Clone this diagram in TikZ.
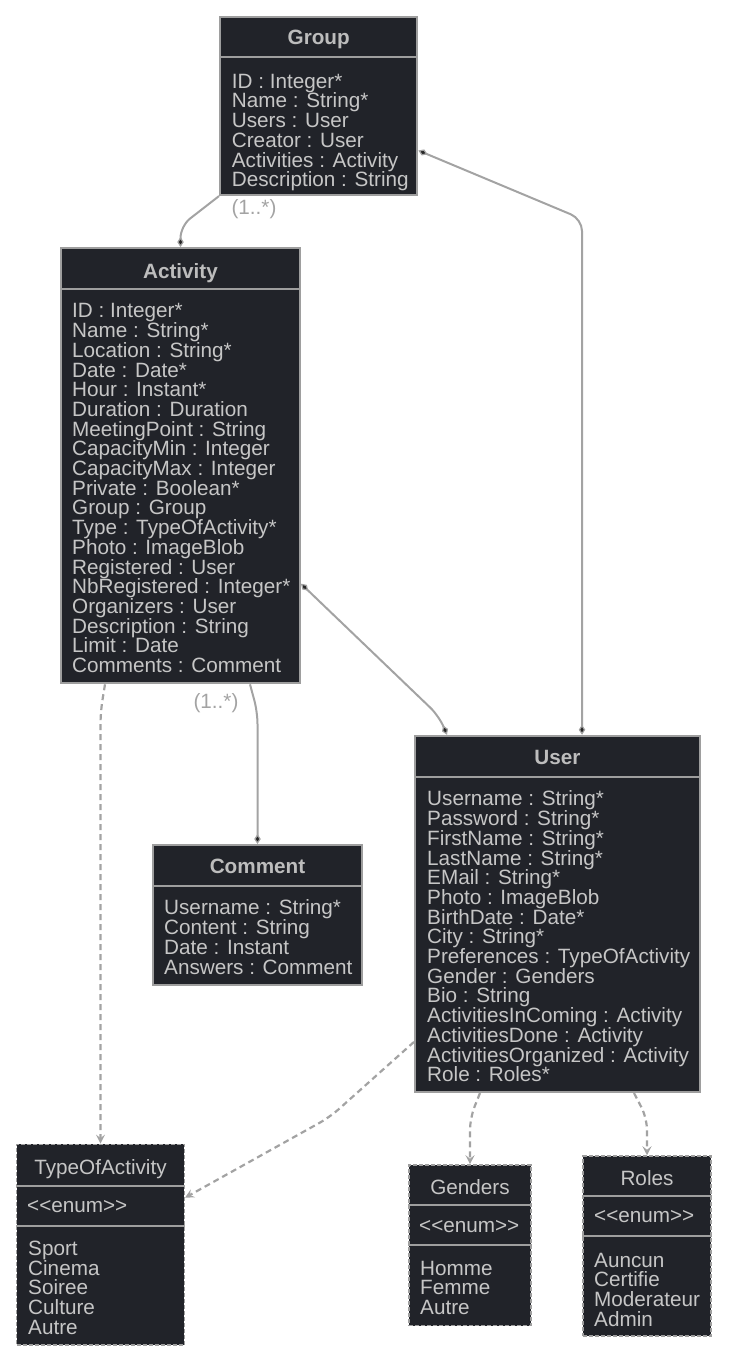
\documentclass[tikz,border=0pt]{standalone}
\usepackage{fontspec}
\setmainfont[Ligatures=NoCommon]{Liberation Sans}
\usetikzlibrary{arrows.meta,calc}
\definecolor{bgc}{HTML}{212329}
\definecolor{bordc}{HTML}{9E9E9E}
\definecolor{txtc}{HTML}{C6C6C6}
\definecolor{ttlc}{HTML}{BDBDBD}
\definecolor{linec}{HTML}{A3A3A3}
\newcommand\umlfont{\fontsize{20.7}{19.7}\selectfont\lineskiplimit=-50pt\relax}
\newcommand\fl{\rule{0pt}{16pt}}
\newcommand\enumtxt{<\kern0pt<enum>\kern0pt>}
\tikzset{
  classbox/.style={draw=bordc, fill=bgc, line width=2pt, inner sep=0pt},
  enumbox/.style={draw=bordc, fill=bgc, line width=1.5pt, dash pattern=on 4pt off 2pt, inner sep=0pt},
  sepline/.style={draw=bordc, line width=2pt},
  esepline/.style={draw=bordc, line width=2pt},
  attr/.style={anchor=north west, inner sep=0pt, align=left, font=\umlfont, text=txtc},
  ttl/.style={anchor=base, inner sep=0pt, font=\umlfont\bfseries, text=ttlc},
  ettl/.style={anchor=base, inner sep=0pt, font=\umlfont, text=txtc},
  ebase/.style={anchor=base west, inner sep=0pt, font=\umlfont, text=txtc},
  lbl/.style={inner sep=0pt, font=\umlfont, text=linec},
  assoc/.style={draw=linec, line width=2pt, rounded corners=12pt},
  dep/.style={draw=linec, line width=2.2pt, dash pattern=on 6pt off 4pt, rounded corners=12pt, -{Stealth[length=9pt,width=9pt,inset=3.5pt]}},
  dia/.tip={Diamond[length=10pt,width=6.5pt,fill=black!85,line width=1.2pt]}
}
\begin{document}
\begin{tikzpicture}[x=1pt,y=-1pt]
\useasboundingbox (0,0) rectangle (728,1362);
% ---------- Group
\node[classbox, minimum width=197.3pt, minimum height=178.3pt] (group) at (318.7,105.9) {};
\draw[sepline] (group.west |- 0,57.3) -- (group.east |- 0,57.3);
\node[ttl] (groupt) at (318.7,45) {Group};
\node[attr] (groupa) at (231.7,72) {\fl ID : Integer*\\Name : String*\\Users : User\\Creator : User\\Activities : Activity\\Description : String};
% ---------- Activity
\node[classbox, minimum width=239pt, minimum height=435.3pt] (activity) at (180.5,465.7) {};
\draw[sepline] (activity.west |- 0,289) -- (activity.east |- 0,289);
\node[ttl] (activityt) at (180.5,278) {Activity};
\node[attr] (activitya) at (72,301.7) {\fl ID : Integer*\\Name : String*\\Location : String*\\Date : Date*\\Hour : Instant*\\Duration : Duration\\MeetingPoint : String\\CapacityMin : Integer\\CapacityMax : Integer\\Private : Boolean*\\Group : Group\\Type : TypeOfActivity*\\Photo : ImageBlob\\Registered : User\\NbRegistered : Integer*\\Organizers : User\\Description : String\\Limit : Date\\Comments : Comment};
% ---------- User
\node[classbox, minimum width=285pt, minimum height=356.3pt] (user) at (557.5,913.9) {};
\draw[sepline] (user.west |- 0,777) -- (user.east |- 0,777);
\node[ttl] (usert) at (557.5,764) {User};
\node[attr] (usera) at (427,789.7) {\fl Username : String*\\Password : String*\\FirstName : String*\\LastName : String*\\EMail : String*\\Photo : ImageBlob\\BirthDate : Date*\\City : String*\\Preferences : TypeOfActivity\\Gender : Genders\\Bio : String\\ActivitiesInComing : Activity\\ActivitiesDone : Activity\\ActivitiesOrganized : Activity\\Role : Roles*};
% ---------- Comment
\node[classbox, minimum width=209pt, minimum height=140pt] (comment) at (257.5,915) {};
\draw[sepline] (comment.west |- 0,886) -- (comment.east |- 0,886);
\node[ttl] (commentt) at (257.5,873) {Comment};
\node[attr] (commenta) at (164,898.7) {\fl Username : String*\\Content : String\\Date : Instant\\Answers : Comment};
% ---------- TypeOfActivity
\node[enumbox, minimum width=167.6pt, minimum height=200.7pt] (toa) at (100.5,1244.7) {};
\draw[esepline] (toa.west |- 0,1185.7) -- (toa.east |- 0,1185.7);
\draw[esepline] (toa.west |- 0,1226.3) -- (toa.east |- 0,1226.3);
\node[ettl] (toat) at (100.5,1174.6) {TypeOfActivity};
\node[ebase] (toae) at (27,1212.5) {\enumtxt};
\node[attr] (toai) at (28,1239.3) {\fl Sport\\Cinema\\Soiree\\Culture\\Autre};
% ---------- Genders
\node[enumbox, minimum width=121.7pt, minimum height=160.7pt] (genders) at (470,1245.3) {};
\draw[esepline] (genders.west |- 0,1205) -- (genders.east |- 0,1205);
\draw[esepline] (genders.west |- 0,1245) -- (genders.east |- 0,1245);
\node[ettl] (genderst) at (470,1194.3) {Genders};
\node[ebase] (genderse) at (419,1232) {\enumtxt};
\node[attr] (gendersi) at (420,1259) {\fl Homme\\Femme\\Autre};
% ---------- Roles
\node[enumbox, minimum width=127.7pt, minimum height=180pt] (roles) at (647,1246) {};
\draw[esepline] (roles.west |- 0,1196) -- (roles.east |- 0,1196);
\draw[esepline] (roles.west |- 0,1236) -- (roles.east |- 0,1236);
\node[ettl] (rolest) at (647,1185.3) {Roles};
\node[ebase] (rolese) at (594,1222.8) {\enumtxt};
\node[attr] (rolesi) at (594,1251) {\fl Auncun\\Certifie\\Moderateur\\Admin};
% ---------- connectors
\draw[assoc, -{dia}] (group.south west) -- (180.5,226) -- (activity.north);
\draw[assoc, {dia}-{dia}] ($(group.east)+(0,44.6)$) -- (582,219) -- ($(user.north)+(24.5,0)$);
\draw[assoc, {dia}-{dia}] ($(activity.east)+(0,118)$) -- (439,716) -- ($(user.north)+(-110.5,0)$);
\draw[assoc, -{dia}] ($(activity.south)+(69.5,0)$) -- (257.5,712) -- (comment.north);
\node[lbl] (m1) at (254,209) {(1..*)};
\node[lbl] (m2) at (216,703) {(1..*)};
\draw[dep] ($(activity.south)+(-75.5,0)$) -- (100.5,712) -- (toa.north);
\draw[dep] ($(user.west)+(0,128)$) -- (330,1117) -- ($(toa.east)+(0,-47)$);
\draw[dep] ($(user.south)+(-77.5,0)$) -- (470,1118) -- (genders.north);
\draw[dep] ($(user.south)+(76.5,0)$) -- (647,1118) -- (roles.north);
\end{tikzpicture}
\end{document}
